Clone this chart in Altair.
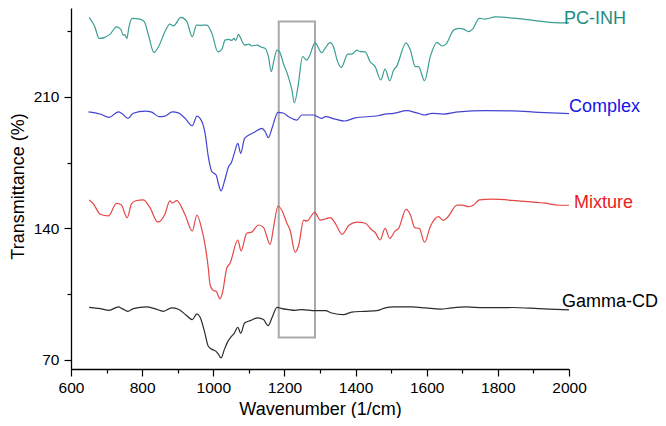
import altair as alt
import pandas as pd

FONT = "Liberation Sans"

# ---------------- data ----------------
pc_wn = [651, 667, 679, 695, 710, 728, 740, 747, 751, 757, 763, 772, 794, 806, 819, 833, 846,
         864, 878, 888, 909, 925, 941, 953, 963, 982, 996, 1013, 1024, 1033, 1043, 1052, 1058,
         1063, 1071, 1075, 1088, 1100, 1108, 1122, 1136, 1146, 1155, 1163, 1169, 1179, 1186,
         1197, 1211, 1221, 1228, 1238, 1251, 1263, 1270, 1286, 1305, 1314, 1328, 1338, 1348,
         1360, 1378, 1389, 1404, 1413, 1427, 1441, 1455, 1471, 1483, 1496, 1507, 1515, 1542,
         1554, 1568, 1577, 1594, 1610, 1629, 1643, 1654, 1676, 1690, 1704, 1718, 1729, 1748,
         1764, 1793, 1877, 1971, 2000]
pc_val = [252.2, 247.2, 241.0, 241.6, 243.3, 247.2, 245.8, 242.8, 243.0, 241.0, 247.2, 251.7,
          251.3, 249.9, 241.9, 233.6, 236.6, 244.6, 248.6, 247.7, 252.2, 250.2, 241.9, 248.1,
          248.0, 248.1, 243.7, 233.9, 235.2, 240.1, 240.5, 240.0, 241.0, 240.0, 243.2, 242.0,
          237.5, 238.0, 237.0, 237.5, 236.3, 235.7, 231.3, 223.3, 228.0, 234.8, 234.0, 227.7,
          220.6, 213.6, 206.8, 215.3, 231.3, 229.5, 231.5, 238.7, 233.4, 235.7, 238.8, 236.6,
          229.5, 225.6, 232.7, 232.7, 234.8, 234.0, 233.9, 228.6, 226.0, 218.9, 224.7, 218.5,
          224.2, 226.0, 238.7, 234.8, 226.0, 226.0, 218.5, 231.3, 238.9, 237.0, 238.0, 245.5,
          246.4, 246.0, 244.6, 246.0, 251.7, 251.3, 252.5, 251.1, 249.3, 249.3]

cx_wn = [649, 682, 707, 733, 744, 760, 775, 808, 827, 848, 864, 885, 902, 921, 941, 954, 963,
         977, 986, 996, 1008, 1014, 1022, 1031, 1043, 1051, 1059, 1069, 1077, 1088, 1099, 1118,
         1137, 1146, 1155, 1165, 1182, 1198, 1212, 1235, 1249, 1282, 1305, 1315, 1343, 1369,
         1399, 1464, 1483, 1507, 1544, 1572, 1594, 1615, 1647, 1690, 1765, 1840, 1915, 2000]
cx_val = [202.0, 200.8, 199.0, 202.0, 201.0, 198.5, 201.2, 202.4, 201.8, 199.4, 199.7, 202.0,
          201.4, 198.5, 194.6, 199.7, 198.5, 190.5, 178.1, 170.1, 168.4, 164.0, 159.9, 164.8,
          172.8, 175.0, 179.9, 185.2, 179.9, 187.9, 189.5, 191.4, 193.2, 191.4, 188.2, 193.2,
          201.7, 201.2, 199.4, 197.6, 200.3, 200.3, 198.5, 199.4, 198.1, 197.1, 198.8, 199.9,
          200.8, 201.2, 202.6, 201.4, 200.3, 201.2, 200.8, 202.0, 202.6, 202.5, 201.7, 201.0]

mx_wn = [651, 663, 682, 705, 728, 741, 758, 770, 782, 803, 822, 844, 864, 878, 885, 897, 921,
         941, 954, 967, 977, 986, 991, 1000, 1008, 1019, 1026, 1038, 1047, 1069, 1078, 1094,
         1108, 1127, 1141, 1160, 1169, 1182, 1193, 1207, 1216, 1230, 1240, 1254, 1263, 1285,
         1301, 1315, 1329, 1343, 1362, 1382, 1404, 1427, 1446, 1455, 1469, 1483, 1496, 1511,
         1521, 1542, 1554, 1566, 1579, 1594, 1610, 1633, 1647, 1660, 1685, 1699, 1718, 1732,
         1748, 1783, 1858, 1933, 1971, 2000]
mx_val = [155.1, 153.0, 147.5, 146.6, 153.3, 152.5, 145.7, 153.0, 154.7, 155.1, 151.0, 143.3,
          147.5, 154.6, 153.5, 154.7, 147.1, 138.6, 147.1, 140.0, 131.1, 118.8, 110.1, 107.0,
          106.5, 102.5, 106.0, 118.9, 121.4, 133.8, 128.0, 137.4, 138.0, 141.8, 140.5, 131.5,
          140.0, 151.9, 149.5, 142.7, 139.0, 127.3, 131.0, 144.4, 143.8, 148.5, 144.4, 145.0,
          145.7, 142.7, 136.8, 141.8, 143.3, 142.7, 139.1, 137.8, 133.8, 140.0, 134.7, 138.5,
          140.0, 150.1, 147.3, 140.4, 140.0, 132.6, 140.9, 146.2, 144.2, 146.2, 152.4, 152.4,
          151.5, 152.4, 155.1, 155.5, 154.6, 153.4, 152.3, 152.3]

gc_wn = [651, 682, 707, 733, 744, 760, 775, 813, 835, 860, 883, 902, 924, 941, 954, 963, 975,
         986, 998, 1007, 1014, 1022, 1031, 1041, 1051, 1059, 1069, 1077, 1088, 1104, 1125,
         1141, 1154, 1165, 1179, 1193, 1211, 1230, 1249, 1286, 1315, 1333, 1366, 1389, 1427,
         1464, 1483, 1507, 1558, 1596, 1638, 1670, 1712, 1759, 1840, 1915, 2000]
gc_val = [98.0, 97.3, 96.4, 98.2, 97.3, 95.9, 97.3, 98.2, 97.3, 95.9, 97.7, 97.0, 93.8, 91.5,
          94.5, 92.7, 85.3, 77.3, 75.5, 74.7, 73.2, 71.1, 75.5, 79.9, 82.5, 84.2, 87.4, 84.2,
          89.7, 90.9, 92.4, 91.5, 88.2, 92.4, 98.0, 97.3, 96.8, 96.4, 96.8, 96.2, 96.2, 95.0,
          94.1, 95.5, 95.9, 96.4, 97.7, 98.2, 98.2, 97.7, 97.0, 97.7, 98.2, 97.8, 97.9, 97.3,
          96.6]

series_names = ["PC-INH", "Complex", "Mixture", "Gamma-CD"]
series_wn = [pc_wn, cx_wn, mx_wn, gc_wn]
series_val = [pc_val, cx_val, mx_val, gc_val]

# highlighted band (wavenumber range and transmittance range of the grey box)
box_wn = [1184, 1286]
box_val = [82, 250]

x_major = [600, 800, 1000, 1200, 1400, 1600, 1800, 2000]
x_minor = [700, 900, 1100, 1300, 1500, 1700, 1900]
y_major = [70, 140, 210]
y_minor = [105, 175, 245]

# ---------------- styles ----------------
line_colors = ["#3a9e94", "#4343d2", "#e64646", "#2b2b2b"]
text_colors = ["#1e8c80", "#1515e6", "#e81c1c", "#000000"]
label_dx = [-5, 0, 5, -7]
label_dy = [1, -2, 3, -3]

frames = [pd.DataFrame({"wn": w, "value": v, "series": n})
          for n, w, v in zip(series_names, series_wn, series_val)]
df = pd.concat(frames, ignore_index=True)

x_scale = alt.Scale(domain=[600, 2000], nice=False, zero=False)
y_scale = alt.Scale(domain=[65.2, 257.2], nice=False, zero=False)

common_axis = dict(
    domainColor="black", domainWidth=1.3, tickColor="black", tickWidth=1.2,
    labelColor="black", labelFont=FONT, labelFontSize=15.5, grid=False, format="d",
    labelFlush=False, labelOverlap=False,
    titleFont=FONT, titleFontSize=18, titleFontWeight="normal", titleColor="black",
)

x_axis = alt.Axis(values=x_major, tickSize=7, labelPadding=4, orient="bottom",
                  title="Wavenumber (1/cm)", titleX=249, titleY=45,
                  titleAlign="center", titleBaseline="alphabetic", **common_axis)
y_axis = alt.Axis(values=y_major, tickSize=7, labelPadding=5, orient="left",
                  title="Transmittance (%)", titleX=-48, titleY=178, titleAngle=270,
                  titleAlign="center", titleBaseline="alphabetic", **common_axis)

lines = alt.Chart(df).mark_line(strokeWidth=1.2, interpolate="monotone").encode(
    x=alt.X("wn:Q", scale=x_scale, axis=x_axis),
    y=alt.Y("value:Q", scale=y_scale, axis=y_axis),
    color=alt.Color("series:N", scale=alt.Scale(domain=series_names, range=line_colors),
                    legend=None),
    detail="series:N",
)

box_df = pd.DataFrame({"wn": [box_wn[0]], "wn2": [box_wn[1]],
                       "value": [box_val[0]], "value2": [box_val[1]]})
box = alt.Chart(box_df).mark_rect(fillOpacity=0, stroke="#a9a9a9", strokeWidth=2).encode(
    x=alt.X("wn:Q", scale=x_scale, axis=None),
    x2="wn2:Q",
    y=alt.Y("value:Q", scale=y_scale, axis=None),
    y2="value2:Q",
)

minor_df = pd.DataFrame({"wn": [x_minor[0]], "value": [y_minor[0]]})
minor = alt.Chart(minor_df).mark_point(opacity=0).encode(
    x=alt.X("wn:Q", scale=x_scale,
            axis=alt.Axis(values=x_minor, tickSize=4, labels=False, domain=False,
                          title=None, orient="bottom", tickColor="black", tickWidth=1.2,
                          grid=False)),
    y=alt.Y("value:Q", scale=y_scale,
            axis=alt.Axis(values=y_minor, tickSize=4, labels=False, domain=False,
                          title=None, orient="left", tickColor="black", tickWidth=1.2,
                          grid=False)),
)

labels = []
for n, w, v, c, dx, dy in zip(series_names, series_wn, series_val, text_colors,
                              label_dx, label_dy):
    ldf = pd.DataFrame({"wn": [w[-1]], "value": [v[-1]], "label": [n]})
    labels.append(
        alt.Chart(ldf).mark_text(align="left", baseline="alphabetic", dx=dx, dy=dy,
                                 font=FONT, fontSize=18, color=c).encode(
            x=alt.X("wn:Q", scale=x_scale, axis=None),
            y=alt.Y("value:Q", scale=y_scale, axis=None),
            text="label:N",
        )
    )

chart = alt.layer(box, lines, minor, *labels).resolve_axis(
    x="independent", y="independent"
).properties(
    width=498, height=361,
    padding={"left": 63, "top": 0, "right": 89, "bottom": 49},
    autosize=alt.AutoSizeParams(type="none"),
    background="white",
).configure_view(stroke=None)

chart.save("out.html", embed_options={"renderer": "svg", "actions": False})
